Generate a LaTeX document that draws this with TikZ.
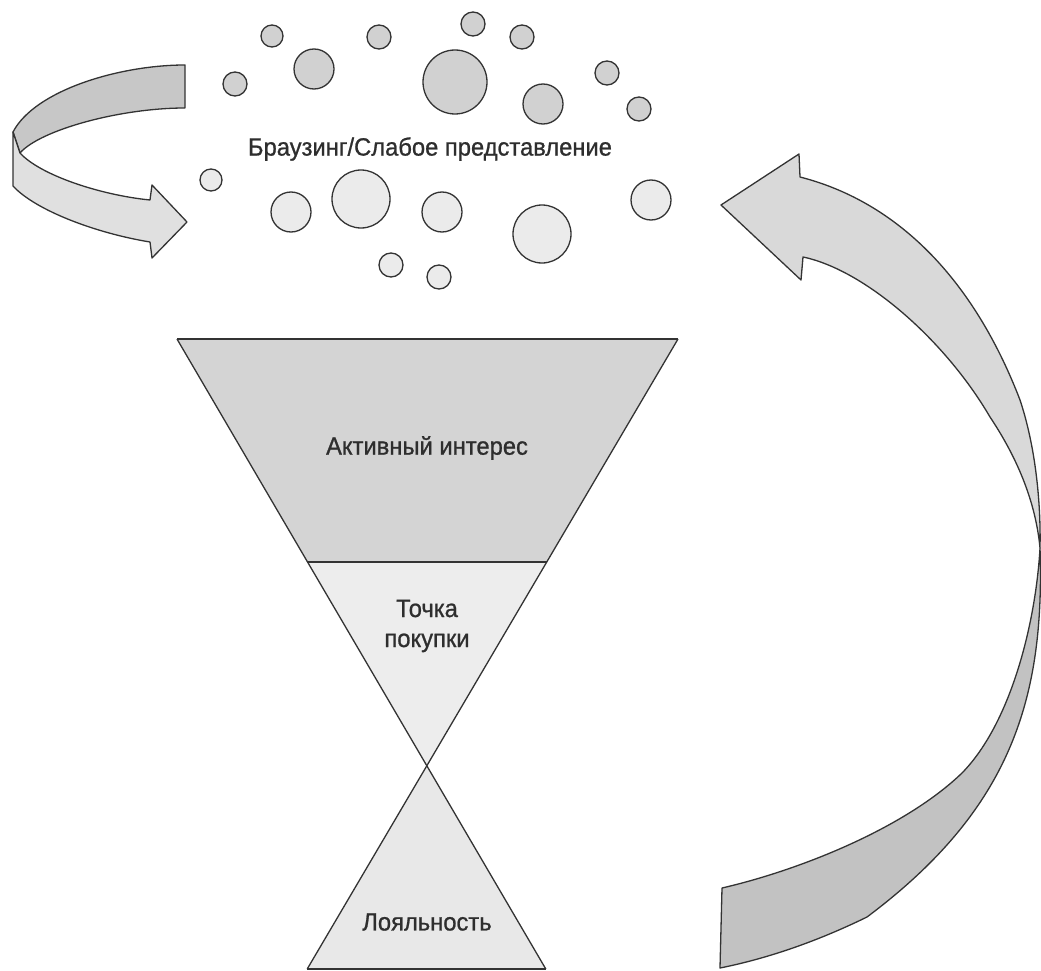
\documentclass[tikz,border=0pt]{standalone}
\usepackage{fontspec}
\newfontfamily\lblfont[FakeStretch=0.95,FakeBold=0.9]{Liberation Sans}
\begin{document}
\begin{tikzpicture}[x=1pt,y=-1pt,line join=round]
\useasboundingbox (0,0) rectangle (1041,971);
\tikzset{
  edge/.style={draw=black!80, line width=1.3pt},
  bubdark/.style={circle, edge, fill=black!18, inner sep=0pt},
  bublight/.style={circle, edge, fill=black!8, inner sep=0pt},
  lbl/.style={font=\lblfont\fontsize{25}{30}\selectfont, text=black!82, align=center},
}
% ---- bubbles (upper, darker)
\node[bubdark, minimum size=22pt] (b1) at (272,36) {};
\node[bubdark, minimum size=24pt] (b2) at (379,37) {};
\node[bubdark, minimum size=24pt] (b3) at (473,24) {};
\node[bubdark, minimum size=24pt] (b4) at (522,37) {};
\node[bubdark, minimum size=40pt] (b5) at (314,69) {};
\node[bubdark, minimum size=64pt] (b6) at (455,82) {};
\node[bubdark, minimum size=24pt] (b7) at (235,84) {};
\node[bubdark, minimum size=24pt] (b8) at (607,73) {};
\node[bubdark, minimum size=40pt] (b9) at (543,104) {};
\node[bubdark, minimum size=24pt] (b10) at (639,109) {};
% ---- bubbles (lower, lighter)
\node[bublight, minimum size=22pt] (b11) at (211,180) {};
\node[bublight, minimum size=40pt] (b12) at (291,212) {};
\node[bublight, minimum size=58pt] (b13) at (361,199) {};
\node[bublight, minimum size=40pt] (b14) at (442,212) {};
\node[bublight, minimum size=58pt] (b15) at (542,234) {};
\node[bublight, minimum size=40pt] (b16) at (651,200) {};
\node[bublight, minimum size=24pt] (b17) at (391,265) {};
\node[bublight, minimum size=24pt] (b18) at (439,277) {};
\node[lbl] (t1) at (430,149) {Браузинг/Слабое представление};

% ---- funnel
\coordinate (ftl) at (177,339);
\coordinate (ftr) at (678,339);
\coordinate (fdl) at (307.6,562);
\coordinate (fdr) at (546.7,562);
\coordinate (fx)  at (427,766);
\coordinate (fbl) at (307.2,969);
\coordinate (fbr) at (545.8,969);
\fill[black!17] (ftl) -- (ftr) -- (fdr) -- (fdl) -- cycle;
\fill[black!7] (fdl) -- (fdr) -- (fx) -- cycle;
\fill[black!9] (fx) -- (fbr) -- (fbl) -- cycle;
\draw[edge] (ftl) -- (ftr);
\draw[edge] (fdl) -- (fdr);
\draw[edge] (ftl) -- (fbr);
\draw[edge] (ftr) -- (fbl);
\draw[edge] (fbl) -- (fbr);
\node[lbl] (t2) at (427,448) {Активный интерес};
\node[lbl] (t3) at (427,626) {Точка\\покупки};
\node[lbl] (t4) at (427,922) {Лояльность};

% ---- left curved arrow
\filldraw[edge, fill=black!22] (185,65) .. controls (120,65) and (35,90) .. (13,132)
  -- (20,153) .. controls (40,130) and (120,108) .. (185,108) -- cycle;
\filldraw[edge, fill=black!12] (13,132) -- (13,186) .. controls (35,210) and (95,233) .. (150,242)
  -- (152,258) -- (187,222) -- (152,185) -- (150,200)
  .. controls (100,195) and (40,175) .. (20,153) -- cycle;

% ---- right curved arrow
\filldraw[edge, fill=black!15] (721,205) -- (799,154) -- (800,177)
  .. controls (890,200) and (970,270) .. (1020,400)
  .. controls (1035,445) and (1041,500) .. (1040,548)
  .. controls (1035,495) and (1012,450) .. (990,417)
  .. controls (945,340) and (865,270) .. (803,257)
  -- (801,280) -- cycle;
\filldraw[edge, fill=black!24] (1040,548)
  .. controls (1045,700) and (1010,810) .. (867,917)
  .. controls (820,940) and (770,958) .. (720,968)
  -- (722,888)
  .. controls (800,870) and (905,828) .. (962,773)
  .. controls (1012,722) and (1036,620) .. (1040,548) -- cycle;
\end{tikzpicture}
\end{document}
